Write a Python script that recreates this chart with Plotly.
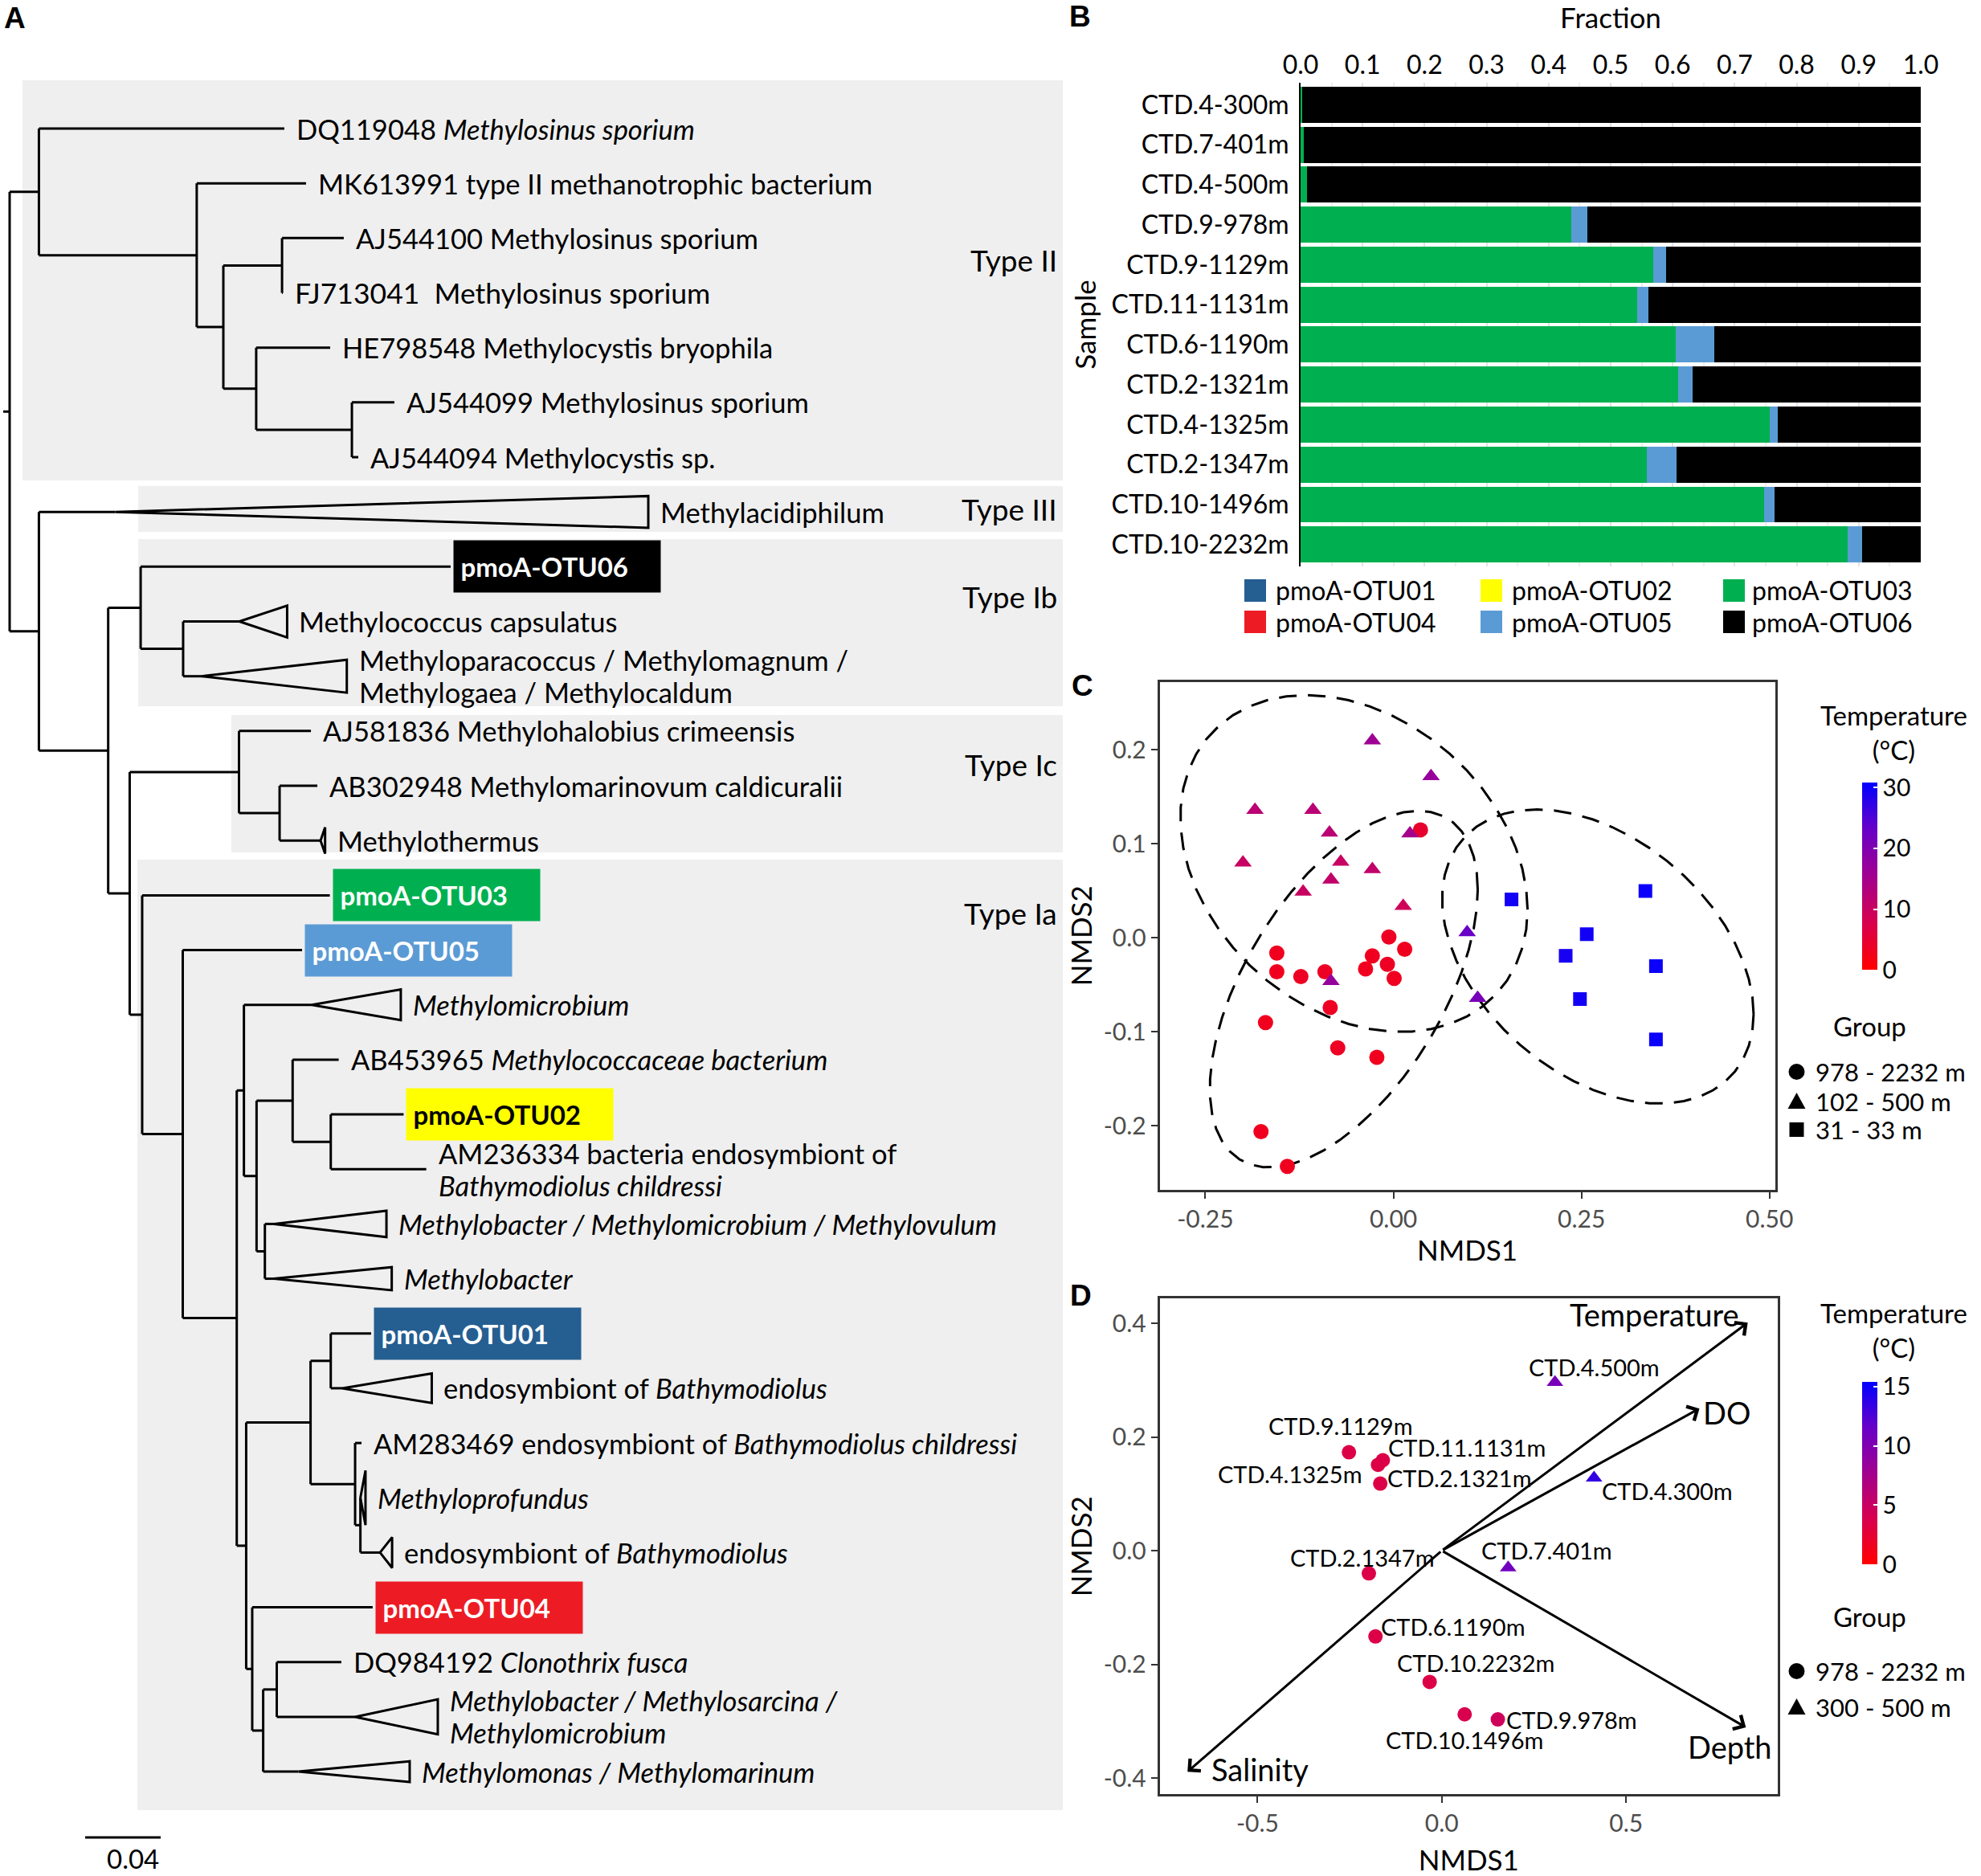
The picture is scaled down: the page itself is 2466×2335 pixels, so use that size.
import numpy as np
import plotly.graph_objects as go

W, H = 2466, 2335
FONT = "Lato"


def X(px):
    return px / W


def Y(py):
    return 1 - py / H


# ===================== Panel A : pmoA tree =====================
# (name, branch length) for tips, (name, branch length, [children]) for nodes
tree = ("root", 0.0, [
    ("nII", 0.0155, [
        ("DQ119048", 0.1300),
        ("nA", 0.0836, [
            ("MK613991", 0.0579),
            ("nB", 0.0141, [
                ("nC", 0.0311, [("AJ544100", 0.0327), ("FJ713041", 0.0004)]),
                ("nD", 0.0174, [
                    ("HE798548", 0.0392),
                    ("nE", 0.0507, [("AJ544099", 0.0225), ("AJ544094", 0.0034)]),
                ]),
            ]),
        ]),
    ]),
    ("nF", 0.0155, [
        ("Methylacidiphilum", 0.0405),
        ("nG", 0.0367, [
            ("nH", 0.0172, [
                ("OTU06", 0.1642),
                ("nI", 0.0225, [("Methylococcus", 0.0298), ("Methyloparacoccus", 0.0098)]),
            ]),
            ("nK", 0.0114, [
                ("nL", 0.0579, [
                    ("AJ581836", 0.0381),
                    ("nM", 0.0215, [("AB302948", 0.0200), ("Methylothermus", 0.0217)]),
                ]),
                ("nT", 0.0066, [
                    ("OTU03", 0.0994),
                    ("nU", 0.0215, [
                        ("OTU05", 0.0632),
                        ("nV", 0.0286, [
                            ("nW", 0.0038, [
                                ("Methylomicrobium", 0.0359),
                                ("nX", 0.0067, [
                                    ("nY", 0.0191, [
                                        ("AB453965", 0.0244),
                                        ("nZ", 0.0202, [("OTU02", 0.0386), ("AM236334", 0.0506)]),
                                    ]),
                                    ("nAA", 0.0044, [("MethylobacterMMM", 0.0048),
                                                     ("Methylobacter", 0.0048)]),
                                ]),
                            ]),
                            ("nBB", 0.0050, [
                                ("nCC", 0.0341, [
                                    ("nDD", 0.0107, [("OTU01", 0.0214), ("EndoBathy1", 0.0061)]),
                                    ("nEE", 0.0236, [
                                        ("AM283469", 0.0034),
                                        ("nFF", 0.0028, [("Methyloprofundus", 0.0000),
                                                         ("EndoBathy2", 0.0104)]),
                                    ]),
                                ]),
                                ("nP", 0.0032, [
                                    ("OTU04", 0.0638),
                                    ("nQ", 0.0058, [
                                        ("nR", 0.0072, [("DQ984192", 0.0342),
                                                        ("MethylobacterMMS", 0.0415)]),
                                        ("Methylomonas", 0.0187),
                                    ]),
                                ]),
                            ]),
                        ]),
                    ]),
                ]),
            ]),
        ]),
    ]),
])
root_stub = 0.0034

# collapsed clades: (clade depth, half spread in tip rows)
collapsed = {
    "Methylacidiphilum": (0.2823, 0.29),
    "Methylococcus": (0.0253, 0.29),
    "Methyloparacoccus": (0.0769, 0.30),
    "Methylothermus": (0.0024, 0.24),
    "Methylomicrobium": (0.0472, 0.28),
    "MethylobacterMMM": (0.0596, 0.24),
    "Methylobacter": (0.0624, 0.21),
    "EndoBathy1": (0.0474, 0.27),
    "Methyloprofundus": (0.0027, 0.50),
    "EndoBathy2": (0.0064, 0.28),
    "MethylobacterMMS": (0.0438, 0.32),
    "Methylomonas": (0.0589, 0.19),
}

tip_labels = {
    "DQ119048": "DQ119048 <i>Methylosinus sporium</i>",
    "MK613991": "MK613991 type II methanotrophic bacterium",
    "AJ544100": "AJ544100 Methylosinus sporium",
    "FJ713041": "FJ713041  Methylosinus sporium",
    "HE798548": "HE798548 Methylocystis bryophila",
    "AJ544099": "AJ544099 Methylosinus sporium",
    "AJ544094": "AJ544094 Methylocystis sp.",
    "Methylacidiphilum": "Methylacidiphilum",
    "OTU06": "pmoA-OTU06",
    "Methylococcus": "Methylococcus capsulatus",
    "Methyloparacoccus": "Methyloparacoccus / Methylomagnum /<br>Methylogaea / Methylocaldum",
    "AJ581836": "AJ581836 Methylohalobius crimeensis",
    "AB302948": "AB302948 Methylomarinovum caldicuralii",
    "Methylothermus": "Methylothermus",
    "OTU03": "pmoA-OTU03",
    "OTU05": "pmoA-OTU05",
    "Methylomicrobium": "<i>Methylomicrobium</i>",
    "AB453965": "AB453965 <i>Methylococcaceae bacterium</i>",
    "OTU02": "pmoA-OTU02",
    "AM236334": "AM236334 bacteria endosymbiont of<br><i>Bathymodiolus childressi</i>",
    "MethylobacterMMM": "<i>Methylobacter / Methylomicrobium / Methylovulum</i>",
    "Methylobacter": "<i>Methylobacter</i>",
    "OTU01": "pmoA-OTU01",
    "EndoBathy1": "endosymbiont of <i>Bathymodiolus</i>",
    "AM283469": "AM283469 endosymbiont of <i>Bathymodiolus childressi</i>",
    "Methyloprofundus": "<i>Methyloprofundus</i>",
    "EndoBathy2": "endosymbiont of <i>Bathymodiolus</i>",
    "OTU04": "pmoA-OTU04",
    "DQ984192": "DQ984192 <i>Clonothrix fusca</i>",
    "MethylobacterMMS": "<i>Methylobacter / Methylosarcina /</i><br><i>Methylomicrobium</i>",
    "Methylomonas": "<i>Methylomonas / Methylomarinum</i>",
}

otu_names = ["pmoA-OTU01", "pmoA-OTU02", "pmoA-OTU03", "pmoA-OTU04", "pmoA-OTU05", "pmoA-OTU06"]
otu_colors = ["#255E91", "#FFFF00", "#00B050", "#ED1C24", "#5B9BD5", "#000000"]
otu_text_colors = ["white", "black", "white", "white", "white", "white"]

clade_types = ["Type II", "Type III", "Type Ib", "Type Ic", "Type Ia"]
scale_bar_length = 0.04

# ===================== Panel B : fractions =====================
samples = ["CTD.4-300m", "CTD.7-401m", "CTD.4-500m", "CTD.9-978m", "CTD.9-1129m",
           "CTD.11-1131m", "CTD.6-1190m", "CTD.2-1321m", "CTD.4-1325m", "CTD.2-1347m",
           "CTD.10-1496m", "CTD.10-2232m"]
frac_otu01 = [0.0] * 12
frac_otu02 = [0.0] * 12
frac_otu03 = [0.002, 0.005, 0.011, 0.437, 0.569, 0.543, 0.605, 0.609, 0.756, 0.558, 0.747, 0.882]
frac_otu04 = [0.0] * 12
frac_otu05 = [0.000, 0.000, 0.000, 0.026, 0.020, 0.018, 0.062, 0.023, 0.013, 0.048, 0.017, 0.023]
frac_otu06 = [0.998, 0.995, 0.989, 0.537, 0.411, 0.439, 0.333, 0.368, 0.231, 0.394, 0.236, 0.095]
fraction_ticks = [0.0, 0.1, 0.2, 0.3, 0.4, 0.5, 0.6, 0.7, 0.8, 0.9, 1.0]

# ===================== Panel C : NMDS, all samples =====================
c_circle_x = [0.036, -0.155, -0.155, -0.123, -0.091, -0.037, -0.028, -0.006, 0.015, -0.008,
              0.001, -0.084, -0.170, -0.074, -0.022, -0.176, -0.141]
c_circle_y = [0.115, -0.016, -0.036, -0.041, -0.036, -0.033, -0.019, 0.001, -0.012, -0.028,
              -0.043, -0.074, -0.090, -0.117, -0.127, -0.206, -0.243]
c_circle_t = [4.5, 3.0, 3.0, 3.5, 3.5, 3.0, 3.0, 3.5, 3.0, 3.5, 3.0, 3.5, 3.0, 3.5, 3.0, 3.0, 3.0]
c_tri_x = [-0.028, 0.050, -0.184, -0.107, -0.085, 0.022, -0.200, -0.070, -0.083, -0.028,
           -0.120, 0.013, -0.083, 0.098, 0.112]
c_tri_y = [0.210, 0.172, 0.136, 0.136, 0.112, 0.111, 0.080, 0.081, 0.062, 0.073,
           0.049, 0.034, -0.046, 0.006, -0.064]
c_tri_t = [16, 17, 12, 12, 12, 15, 10, 10, 11, 11, 10, 9, 17, 23, 21]
c_sq_x = [0.157, 0.335, 0.257, 0.229, 0.349, 0.248, 0.349]
c_sq_y = [0.041, 0.050, 0.004, -0.019, -0.030, -0.065, -0.108]
c_sq_t = [29.5, 30.0, 29.5, 29.0, 30.0, 29.5, 30.0]
c_groups = ["978 - 2232 m", "102 - 500 m", "31 - 33 m"]
c_temp_max = 30.8

# ===================== Panel D : NMDS with environment =====================
d_names = ["CTD.4.500m", "CTD.4.300m", "CTD.7.401m", "CTD.9.1129m", "CTD.11.1131m",
           "CTD.4.1325m", "CTD.2.1321m", "CTD.2.1347m", "CTD.6.1190m", "CTD.10.2232m",
           "CTD.10.1496m", "CTD.9.978m"]
d_x = [0.307, 0.413, 0.180, -0.252, -0.160, -0.173, -0.167, -0.198, -0.180, -0.033, 0.062, 0.152]
d_y = [0.296, 0.128, -0.030, 0.173, 0.159, 0.151, 0.118, -0.040, -0.151, -0.231, -0.288, -0.297]
d_temp = [10.5, 13.5, 11.0, 3.5, 3.5, 3.5, 3.5, 3.5, 3.5, 3.5, 3.8, 4.5]
d_group = ["300 - 500 m"] * 3 + ["978 - 2232 m"] * 9
d_groups = ["978 - 2232 m", "300 - 500 m"]
d_temp_max = 15.4
env_names = ["Temperature", "DO", "Depth", "Salinity"]
env_x = [0.830, 0.699, 0.825, -0.690]
env_y = [0.401, 0.250, -0.311, -0.389]

temp_scale = [[0.0, "#FF0000"], [0.25, "#D8004E"], [0.5, "#A2008F"],
              [0.75, "#6800C8"], [1.0, "#0000FF"]]

# ----------------------------------------------------------------
fig = go.Figure()

# ---------- tree layout ----------
seg_x, seg_y, tri_x, tri_y = [], [], [], []
tips = {}
counter = [0]


def walk(node, parent_depth):
    name, bl = node[0], node[1]
    d = parent_depth + bl
    if len(node) == 3:
        ys = [walk(ch, d) for ch in node[2]]
        y = (ys[0] + ys[-1]) / 2
        seg_x.extend([d, d, None])
        seg_y.extend([ys[0], ys[-1], None])
    else:
        y = counter[0]
        counter[0] += 1
        tip = d
        if name in collapsed:
            cd, sp = collapsed[name]
            tip = d + cd
            tri_x.extend([d, tip, tip, d, None])
            tri_y.extend([y, y - sp, y + sp, y, None])
        tips[name] = (tip, y)
    if bl > 0:
        seg_x.extend([parent_depth, d, None])
        seg_y.extend([y, y, None])
    return y


root_y = walk(tree, 0.0)
seg_x.extend([-root_stub, 0.0, None])
seg_y.extend([root_y, root_y, None])

# tree pixel mapping (layout)
TREE_X0_PX, TREE_PX_PER_UNIT = 12, 2350
ROW0_PX, ROW_PX = 160, 68.17
xr3 = [-TREE_X0_PX / TREE_PX_PER_UNIT, (W - TREE_X0_PX) / TREE_PX_PER_UNIT]
yr3 = [(H - ROW0_PX) / ROW_PX, -ROW0_PX / ROW_PX]


def row_of(py):
    return (py - ROW0_PX) / ROW_PX


shapes = []
annotations = []

# grey clade boxes
boxes = [(28, 100, 1323, 598), (172, 605, 1323, 662), (172, 671, 1323, 879),
         (288, 890, 1323, 1061), (171, 1070, 1323, 2253)]
for (x0, y0, x1, y1) in boxes:
    shapes.append(dict(type="rect", xref="paper", yref="paper", x0=X(x0), x1=X(x1),
                       y0=Y(y1), y1=Y(y0), fillcolor="#EFEFEF", line=dict(width=0),
                       layer="below"))

fig.add_trace(go.Scatter(x=seg_x + tri_x, y=seg_y + tri_y, mode="lines",
                         line=dict(color="black", width=3), xaxis="x3", yaxis="y3",
                         hoverinfo="skip", showlegend=False))

# scale bar
sb_row = row_of(2287)
fig.add_trace(go.Scatter(x=[scale_bar_length, 2 * scale_bar_length], y=[sb_row, sb_row],
                         mode="lines", line=dict(color="black", width=3),
                         xaxis="x3", yaxis="y3", hoverinfo="skip", showlegend=False))
annotations.append(dict(xref="x3", yref="y3", x=2 * scale_bar_length, y=row_of(2313),
                        text=f"{scale_bar_length:.2f}", showarrow=False, xanchor="right",
                        yanchor="middle", font=dict(size=33, family=FONT, color="black")))

LINE_GAP = 40
for name, (tip, y) in tips.items():
    txt = tip_labels[name]
    if txt in otu_names:
        k = otu_names.index(txt)
        annotations.append(dict(xref="x3", yref="y3", x=tip, y=y, xshift=3,
                                text="&nbsp;<b>" + txt + "</b>", showarrow=False,
                                xanchor="left", yanchor="middle", align="left",
                                width=257, height=64, bgcolor=otu_colors[k], borderpad=0,
                                font=dict(size=33, family=FONT, color=otu_text_colors[k])))
    else:
        size = 35.5 if name == "FJ713041" else 34.5
        lines = txt.split("<br>")
        n = len(lines)
        for i, line in enumerate(lines):
            annotations.append(dict(xref="x3", yref="y3", x=tip, y=y, xshift=13,
                                    yshift=((n - 1) / 2 - i) * LINE_GAP, text=line,
                                    showarrow=False, xanchor="left", yanchor="middle",
                                    align="left",
                                    font=dict(size=size, family=FONT, color="black")))

type_label_py = [324, 633, 743, 952, 1136]
for t, py in zip(clade_types, type_label_py):
    annotations.append(dict(xref="paper", yref="paper", x=X(1318), y=Y(py), text=t,
                            showarrow=False, xanchor="right", yanchor="middle",
                            font=dict(size=37, family=FONT, color="black")))

# ---------- Panel B ----------
fracs = [frac_otu01, frac_otu02, frac_otu03, frac_otu04, frac_otu05, frac_otu06]
for nm, col, vals in zip(otu_names, otu_colors, fracs):
    fig.add_trace(go.Bar(y=samples, x=vals, orientation="h", name=nm,
                         marker=dict(color=col, line=dict(width=0)),
                         xaxis="x", yaxis="y", showlegend=False))

# manual legend for B
leg_cols_px = [(1549, 1586), (1843, 1880), (2145, 2179)]
leg_rows_px = [735, 774]
for k, (nm, col) in enumerate(zip(otu_names, otu_colors)):
    r, c = divmod(k, 3)
    sx, tx = leg_cols_px[c]
    py = leg_rows_px[r]
    shapes.append(dict(type="rect", xref="paper", yref="paper", x0=X(sx), x1=X(sx + 27),
                       y0=Y(py + 14), y1=Y(py - 14), fillcolor=col, line=dict(width=0)))
    annotations.append(dict(xref="paper", yref="paper", x=X(tx), y=Y(py), text=nm,
                            showarrow=False, xanchor="left", yanchor="middle",
                            font=dict(size=32, family=FONT, color="black")))


# ---------- Panel C ----------
def stat_ellipse(xs, ys, level=0.95, nu=5, segments=51):
    Xm = np.column_stack([xs, ys]).astype(float)
    n, p = Xm.shape
    wt = np.ones(n)
    loc = Xm.mean(0)
    w = np.sqrt(wt)
    Xc = Xm - loc
    for _ in range(25):
        w0 = w
        Xc = Xm - loc
        _, dsv, vt = np.linalg.svd(np.sqrt(wt / wt.sum())[:, None] * Xc, full_matrices=False)
        wX = Xc @ vt.T @ np.diag(1 / dsv)
        Q = (wX ** 2).sum(1)
        w = (wt * (nu + p)) / (nu + Q)
        loc = (w[:, None] * Xm).sum(0) / w.sum()
        if np.all(np.abs(w - w0) < 0.01):
            break
    sw = np.sqrt(w)[:, None] * Xc
    cov = sw.T @ sw / wt.sum()
    dfd = n - 1
    qf = (dfd / 2.0) * ((1 - level) ** (-2.0 / dfd) - 1)
    radius = np.sqrt(2 * qf)
    R = np.linalg.cholesky(cov).T
    ang = np.arange(segments + 1) * 2 * np.pi / segments
    circ = np.column_stack([np.cos(ang), np.sin(ang)])
    ell = loc + radius * (circ @ R)
    return ell[:, 0], ell[:, 1]


for gx, gy in [(c_circle_x, c_circle_y), (c_tri_x, c_tri_y), (c_sq_x, c_sq_y)]:
    ex, ey = stat_ellipse(gx, gy)
    fig.add_trace(go.Scatter(x=ex, y=ey, mode="lines",
                             line=dict(color="black", width=3, dash="22px,14px"),
                             xaxis="x2", yaxis="y2", hoverinfo="skip", showlegend=False))

c_sets = [(c_circle_x, c_circle_y, c_circle_t, "circle", 19),
          (c_tri_x, c_tri_y, c_tri_t, "triangle-up", 19),
          (c_sq_x, c_sq_y, c_sq_t, "square", 17)]
for (gx, gy, gt, sym, sz), gname in zip(c_sets, c_groups):
    fig.add_trace(go.Scatter(x=gx, y=gy, mode="markers", name=gname,
                             marker=dict(symbol=sym, size=sz, color=gt, coloraxis="coloraxis",
                                         line=dict(width=0)),
                             xaxis="x2", yaxis="y2", showlegend=False))

# ---------- Panel D ----------
d_symbol = {"978 - 2232 m": "circle", "300 - 500 m": "triangle-up"}
for g in d_groups:
    idx = [i for i, gg in enumerate(d_group) if gg == g]
    fig.add_trace(go.Scatter(x=[d_x[i] for i in idx], y=[d_y[i] for i in idx], mode="markers",
                             name=g, marker=dict(symbol=d_symbol[g], size=18,
                                                 color=[d_temp[i] for i in idx],
                                                 coloraxis="coloraxis2", line=dict(width=0)),
                             xaxis="x4", yaxis="y4", showlegend=False))

d_label_offsets = [(49, -19), (91, 16), (48, -22), (-10, -33), (105, -16), (-109, 11),
                   (99, -7), (-8, -20), (97, -12), (57, -24), (0, 32), (92, 0)]
for nm, x, y, (dx, dy) in zip(d_names, d_x, d_y, d_label_offsets):
    annotations.append(dict(xref="x4", yref="y4", x=x, y=y, xshift=dx, yshift=-dy, text=nm,
                            showarrow=False, xanchor="center", yanchor="middle",
                            font=dict(size=29, family=FONT, color="black")))

env_label_offsets = [(-116, -10), (34, 5), (-20, 24), (90, -3)]
for nm, x, y, (dx, dy) in zip(env_names, env_x, env_y, env_label_offsets):
    annotations.append(dict(xref="x4", yref="y4", x=x, y=y, ax=0, ay=0, axref="x4",
                            ayref="y4", text="", showarrow=True, arrowhead=4, arrowsize=1.3,
                            arrowwidth=3, arrowcolor="black", standoff=0))
    annotations.append(dict(xref="x4", yref="y4", x=x, y=y, xshift=dx, yshift=-dy, text=nm,
                            showarrow=False, xanchor="center", yanchor="middle",
                            font=dict(size=38, family=FONT, color="black")))


# ---------- legends for C and D ----------
def cbar_title(py):
    annotations.append(dict(xref="paper", yref="paper", x=X(2357), y=Y(py),
                            text="Temperature<br>(°C)", showarrow=False, xanchor="center",
                            yanchor="middle", font=dict(size=33, family=FONT, color="black")))


cbar_title(911)
cbar_title(1655)


def group_legend(title_py, items, ys):
    annotations.append(dict(xref="paper", yref="paper", x=X(2327), y=Y(title_py), text="Group",
                            showarrow=False, xanchor="center", yanchor="middle",
                            font=dict(size=33, family=FONT, color="black")))
    for (label, sym), py in zip(items, ys):
        cx = 2236.5
        if sym == "circle":
            shapes.append(dict(type="circle", xref="paper", yref="paper", x0=X(cx - 10),
                               x1=X(cx + 10), y0=Y(py + 10), y1=Y(py - 10),
                               fillcolor="black", line=dict(width=0)))
        elif sym == "triangle-up":
            path = (f"M {X(cx - 11)},{Y(py + 9)} L {X(cx + 11)},{Y(py + 9)} "
                    f"L {X(cx)},{Y(py - 11)} Z")
            shapes.append(dict(type="path", xref="paper", yref="paper", path=path,
                               fillcolor="black", line=dict(width=0)))
        else:
            shapes.append(dict(type="rect", xref="paper", yref="paper", x0=X(cx - 9),
                               x1=X(cx + 9), y0=Y(py + 9), y1=Y(py - 9),
                               fillcolor="black", line=dict(width=0)))
        annotations.append(dict(xref="paper", yref="paper", x=X(2258), y=Y(py), text=label,
                                showarrow=False, xanchor="left", yanchor="middle",
                                font=dict(size=31, family=FONT, color="black")))


group_legend(1277, list(zip(c_groups, ["circle", "triangle-up", "square"])), [1334, 1371, 1406])
group_legend(2012, list(zip(d_groups, ["circle", "triangle-up"])), [2080, 2125])

# panel letters
for letter, px, py in [("A", 3, 23), ("B", 1329, 21), ("C", 1332, 853), ("D", 1330, 1612)]:
    annotations.append(dict(xref="paper", yref="paper", x=X(px), y=Y(py), text=f"<b>{letter}</b>",
                            showarrow=False, xanchor="left", yanchor="middle",
                            font=dict(size=37, family="Liberation Sans", color="black")))

# ---------- axes ----------
nmds_axis = dict(showline=True, mirror=True, linecolor="#333333", linewidth=2.5,
                 ticks="outside", ticklen=8, tickwidth=2, tickcolor="#333333",
                 tickfont=dict(size=30, family=FONT, color="#4D4D4D"), showgrid=False,
                 zeroline=False, automargin=False)

cbar_common = dict(xanchor="left", xpad=0, ypad=0, lenmode="pixels", thickness=19,
                   thicknessmode="pixels", outlinewidth=0, ticks="inside", tickcolor="white",
                   ticklen=5, tickwidth=2, tickfont=dict(size=30, family=FONT, color="black"))

fig.update_layout(
    width=W, height=H, margin=dict(l=0, r=0, t=0, b=0, autoexpand=False),
    paper_bgcolor="white", plot_bgcolor="rgba(0,0,0,0)",
    font=dict(family=FONT, color="black", size=30),
    showlegend=False, barmode="stack", bargap=0.1,
    xaxis=dict(domain=[X(1619), X(2391)], anchor="y", side="top", range=[0, 1],
               tickvals=fraction_ticks, tickformat=".1f", ticks="", showgrid=True,
               gridcolor="#E3E3E3", gridwidth=1.5,
               minor=dict(dtick=0.05, tick0=0, showgrid=True, gridcolor="#EDEDED", gridwidth=1.5),
               zeroline=False, showline=False, automargin=False,
               tickfont=dict(size=32, family=FONT, color="black"), ticklabelstandoff=4,
               title=dict(text="Fraction", font=dict(size=35, family=FONT), standoff=24)),
    yaxis=dict(domain=[Y(705), Y(103)], anchor="x", type="category", categoryorder="array",
               categoryarray=samples, range=[11.55, -0.55], showline=True, linecolor="black",
               linewidth=2, ticks="", showgrid=False, zeroline=False, automargin=False,
               tickfont=dict(size=32, family=FONT, color="black"), ticklabelstandoff=6,
               title=dict(text="Sample", font=dict(size=35, family=FONT), standoff=8)),
    xaxis2=dict(nmds_axis, domain=[X(1443.5), X(2209.6)], anchor="y2", range=[-0.3108, 0.5073],
                tickvals=[-0.25, 0, 0.25, 0.5], ticktext=["-0.25", "0.00", "0.25", "0.50"],
                title=dict(text="NMDS1", font=dict(size=35, family=FONT), standoff=6)),
    yaxis2=dict(nmds_axis, domain=[Y(1481), Y(848.5)], anchor="x2", range=[-0.268, 0.2726],
                tickvals=[-0.2, -0.1, 0, 0.1, 0.2], ticktext=["-0.2", "-0.1", "0.0", "0.1", "0.2"],
                title=dict(text="NMDS2", font=dict(size=35, family=FONT), standoff=4)),
    xaxis3=dict(domain=[0, 1], anchor="y3", range=xr3, visible=False, fixedrange=True),
    yaxis3=dict(domain=[0, 1], anchor="x3", range=yr3, visible=False, fixedrange=True),
    xaxis4=dict(nmds_axis, domain=[X(1443.5), X(2213)], anchor="y4", range=[-0.7657, 0.9115],
                tickvals=[-0.5, 0, 0.5], ticktext=["-0.5", "0.0", "0.5"],
                title=dict(text="NMDS1", font=dict(size=35, family=FONT), standoff=22)),
    yaxis4=dict(nmds_axis, domain=[Y(2233.3), Y(1616.3)], anchor="x4", range=[-0.4287, 0.4434],
                tickvals=[-0.4, -0.2, 0, 0.2, 0.4], ticktext=["-0.4", "-0.2", "0.0", "0.2", "0.4"],
                title=dict(text="NMDS2", font=dict(size=35, family=FONT), standoff=4)),
    coloraxis=dict(colorscale=temp_scale, cmin=0, cmax=c_temp_max,
                   colorbar=dict(cbar_common, x=X(2318), y=Y(1090.75), yanchor="middle", len=233,
                                 tickvals=[0, 10, 20, 30])),
    coloraxis2=dict(colorscale=temp_scale, cmin=0, cmax=d_temp_max,
                    colorbar=dict(cbar_common, x=X(2318), y=Y(1833.5), yanchor="middle", len=227,
                                  tickvals=[0, 5, 10, 15])),
    shapes=shapes,
    annotations=annotations,
)

fig.write_html("out.html", config={"displayModeBar": False},
               post_script="document.body.style.margin='0px';"
                           "document.body.style.padding='0px';"
                           "document.body.style.overflow='hidden';")
